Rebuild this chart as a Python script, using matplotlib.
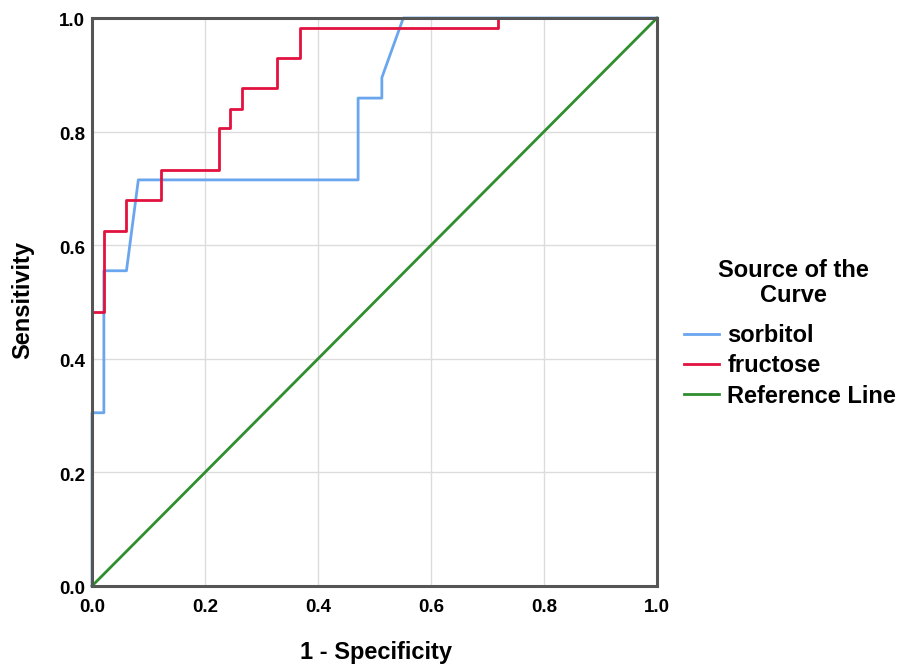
import matplotlib
matplotlib.use("Agg")
import matplotlib.pyplot as plt
import matplotlib.transforms as mtransforms
from matplotlib.lines import Line2D

plt.rcParams['font.family'] = ['Liberation Sans', 'DejaVu Sans']

# ROC curve data (1 - specificity, sensitivity)
sorbitol_fpr = [0.0, 0.0, 0.021, 0.021, 0.061, 0.082, 0.471, 0.471, 0.513, 0.513, 0.551, 1.0]
sorbitol_tpr = [0.0, 0.305, 0.305, 0.555, 0.555, 0.715, 0.715, 0.859, 0.859, 0.895, 1.0, 1.0]

fructose_fpr = [0.0, 0.0, 0.021, 0.021, 0.061, 0.061, 0.123, 0.123, 0.225, 0.225, 0.245, 0.245,
                0.266, 0.266, 0.328, 0.328, 0.369, 0.369, 0.718, 0.718, 1.0]
fructose_tpr = [0.0, 0.483, 0.483, 0.625, 0.625, 0.680, 0.680, 0.733, 0.733, 0.806, 0.806, 0.840,
                0.840, 0.876, 0.876, 0.930, 0.930, 0.983, 0.983, 1.0, 1.0]

ref_x = [0.0, 1.0]
ref_y = [0.0, 1.0]

ticks = [0.0, 0.2, 0.4, 0.6, 0.8, 1.0]
tick_labels = ["0.0", "0.2", "0.4", "0.6", "0.8", "1.0"]

c_sorb = "#6aa6ee"
c_fruc = "#e2123f"
c_ref = "#2f8f2f"

fig = plt.figure(figsize=(9.04, 6.65), dpi=100)
ax = fig.add_axes([92/904, 1 - 586/665, (657-92)/904, (586-18)/665])

ax.plot(ref_x, ref_y, color=c_ref, lw=2.0, zorder=3, clip_on=False)
ax.plot(sorbitol_fpr, sorbitol_tpr, color=c_sorb, lw=2.0, zorder=4, clip_on=False)
ax.plot(fructose_fpr, fructose_tpr, color=c_fruc, lw=2.0, zorder=5, clip_on=False)

ax.set_xlim(0, 1)
ax.set_ylim(0, 1)
ax.set_xticks(ticks)
ax.set_yticks(ticks)
ax.set_xticklabels(tick_labels, fontweight='bold', fontsize=13.5)
ax.set_yticklabels(tick_labels, fontweight='bold', fontsize=13.5, va='center')
ax.tick_params(axis='x', length=0, pad=9)
ax.tick_params(axis='y', length=0, pad=5)
offset = mtransforms.ScaledTranslation(0, -4/100, fig.dpi_scale_trans)
for lbl in ax.get_yticklabels():
    lbl.set_transform(lbl.get_transform() + offset)
ax.grid(True, color="#dcdcdc", lw=1.0, zorder=0)
ax.set_axisbelow(True)
for s in ax.spines.values():
    s.set_color("#555555")
    s.set_linewidth(2.2)
    s.set_zorder(6)

ax.set_xlabel("1 - Specificity", fontweight='bold', fontsize=17)
ax.xaxis.set_label_coords((376 - 92) / 565, -(653 - 586) / 568)
ax.xaxis.label.set_va('center')
ax.set_ylabel("Sensitivity", fontweight='bold', fontsize=17)
ax.yaxis.set_label_coords(-(92 - 23) / 565, (586 - 300) / 568)
ax.yaxis.label.set_va('center')

fig.text(793/904, 1 - 283/665, "Source of the\nCurve", ha='center', va='center',
         multialignment='center', fontweight='bold', fontsize=17, linespacing=1.15)

handles = [Line2D([], [], color=c_sorb, lw=2.0),
           Line2D([], [], color=c_fruc, lw=2.0),
           Line2D([], [], color=c_ref, lw=2.0)]
leg = fig.legend(handles, ["sorbitol", "fructose", "Reference Line"],
                 loc='center left', bbox_to_anchor=(684/904, 1 - 366/665),
                 frameon=False, borderpad=0, borderaxespad=0,
                 prop={'weight': 'bold', 'size': 17},
                 handlelength=1.5, handletextpad=0.33, labelspacing=0.3)

fig.savefig("out.png", dpi=100)
